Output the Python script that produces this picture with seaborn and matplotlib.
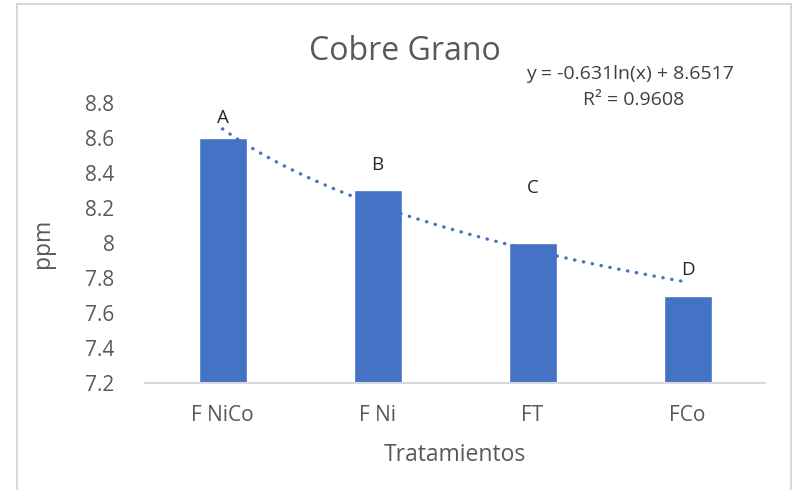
import numpy as np
import pandas as pd
import matplotlib
matplotlib.use('Agg')
import matplotlib.pyplot as plt
import seaborn as sns
from matplotlib.patches import Rectangle

# datos
tratamientos = ['F NiCo', 'F Ni', 'FT', 'FCo']
ppm = [8.6, 8.3, 8.0, 7.7]
letras = ['A', 'B', 'C', 'D']
letras_y = [8.715, 8.445, 8.315, 7.845]
y_ticks = [7.2, 7.4, 7.6, 7.8, 8.0, 8.2, 8.4, 8.6, 8.8]
y_ticklabels = ['7.2', '7.4', '7.6', '7.8', '8', '8.2', '8.4', '8.6', '8.8']

azul = '#4472C4'
gris = '#595959'

sns.set_style('white')
plt.rcParams['font.family'] = ['Open Sans', 'DejaVu Sans']

df = pd.DataFrame({'Tratamientos': tratamientos, 'ppm': ppm})

fig = plt.figure(figsize=(7.97, 4.90), dpi=100)
ax = fig.add_axes([0.182, 0.218, 0.778, 0.572])

sns.barplot(data=df, x='Tratamientos', y='ppm', color=azul, width=0.31,
            saturation=1, ax=ax)

# linea de tendencia logaritmica
xs = np.arange(1, len(ppm) + 1)
a, b = np.polyfit(np.log(xs), ppm, 1)
pred = a * np.log(xs) + b
r2 = 1 - np.sum((np.array(ppm) - pred) ** 2) / np.sum((np.array(ppm) - np.mean(ppm)) ** 2)
xx = np.linspace(1, len(ppm), 200)
ax.plot(xx - 1, a * np.log(xx) + b, color=azul, lw=2.4,
        linestyle=(0, (0.1, 2.6)), dash_capstyle='round')

for i, (l, yl) in enumerate(zip(letras, letras_y)):
    ax.text(i, yl, l, ha='center', va='center', fontsize=13.5, color='#262626')

ax.set_ylim(7.2, 8.8)
ax.set_xlim(-0.5, len(ppm) - 0.5)
ax.set_yticks(y_ticks)
ax.set_yticklabels(y_ticklabels)
ax.tick_params(axis='both', labelsize=15, colors=gris, length=0)
ax.tick_params(axis='y', pad=22)
ax.tick_params(axis='x', pad=16)
for s in ['top', 'right', 'left']:
    ax.spines[s].set_visible(False)
ax.spines['bottom'].set_color('#d9d9d9')
ax.spines['bottom'].set_linewidth(1.5)

ax.set_xlabel('Tratamientos', fontsize=16.5, color=gris, labelpad=12)
ax.set_ylabel('ppm', fontsize=16.5, color=gris, labelpad=22)

fig.text(0.508, 0.895, 'Cobre Grano', ha='center', va='center', fontsize=23, color=gris)
fig.text(0.79, 0.848, 'y = %.3fln(x) + %.4f' % (a, b), ha='center', va='center',
         fontsize=14, color='#404040')
fig.text(0.795, 0.795, 'R² = %.4f' % r2, ha='center', va='center',
         fontsize=14, color='#404040')

fig.patches.append(Rectangle((17 / 797, -0.05), 774 / 797, 1 - 4 / 490 + 0.05,
                             transform=fig.transFigure, fill=False,
                             edgecolor='#d9d9d9', lw=1.5))

fig.savefig('out.png', dpi=100)
